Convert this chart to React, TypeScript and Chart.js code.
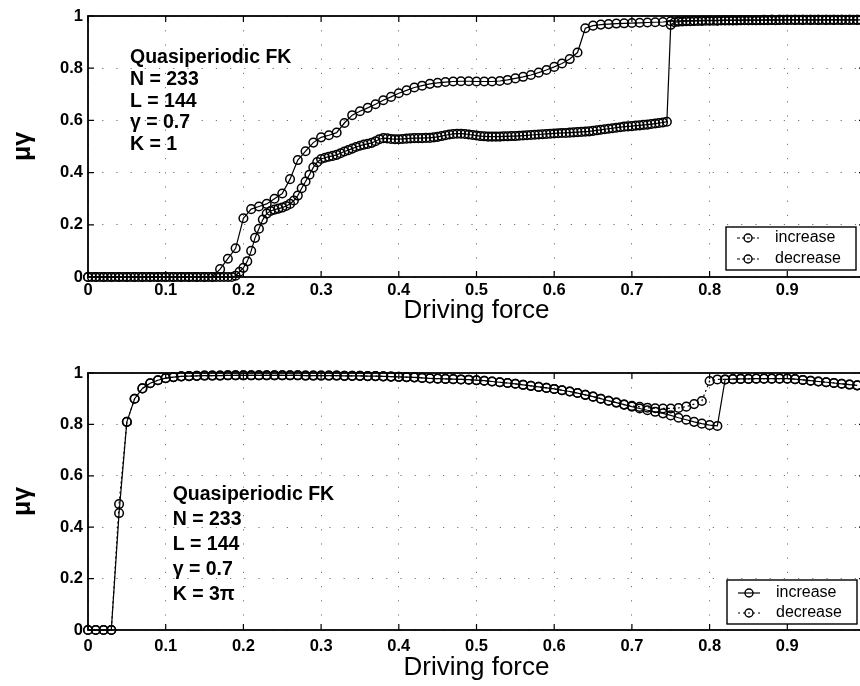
import React, { useEffect, useRef } from 'react';
import { Chart, registerables } from 'chart.js';

Chart.register(...registerables);

// ---------- data ----------
const STEP_FINE = 0.005;
const STEP_COARSE = 0.01;

const topIncrease = [
  0, 0, 0, 0, 0, 0, 0, 0, 0, 0,
  0, 0, 0, 0, 0, 0, 0, 0, 0, 0,
  0, 0, 0, 0, 0, 0, 0, 0, 0, 0,
  0, 0, 0, 0, 0, 0, 0, 0, 0.005, 0.02,
  0.035, 0.06, 0.1, 0.15, 0.185, 0.22, 0.243, 0.253, 0.258, 0.262,
  0.266, 0.272, 0.28, 0.293, 0.312, 0.34, 0.366, 0.392, 0.42, 0.44,
  0.452, 0.457, 0.461, 0.464, 0.468, 0.474, 0.481, 0.486, 0.492, 0.498,
  0.503, 0.507, 0.51, 0.514, 0.52, 0.528, 0.532, 0.531, 0.529, 0.528,
  0.528, 0.529, 0.53, 0.531, 0.532, 0.532, 0.532, 0.533, 0.533, 0.535,
  0.537, 0.54, 0.543, 0.546, 0.548, 0.549, 0.549, 0.548, 0.546, 0.544,
  0.542, 0.54, 0.539, 0.538, 0.538, 0.538, 0.538, 0.539, 0.539, 0.54,
  0.54, 0.541, 0.542, 0.543, 0.544, 0.545, 0.546, 0.547, 0.548, 0.549,
  0.55, 0.551, 0.552, 0.552, 0.553, 0.554, 0.555, 0.556, 0.557, 0.558,
  0.56, 0.562, 0.564, 0.566, 0.568, 0.57, 0.572, 0.574, 0.576, 0.577,
  0.578, 0.58, 0.581, 0.583, 0.584, 0.586, 0.588, 0.59, 0.592, 0.595,
  0.966, 0.976, 0.978, 0.979, 0.98, 0.98, 0.981, 0.981, 0.981, 0.982,
  0.982, 0.982, 0.982, 0.983, 0.983, 0.983, 0.983, 0.983, 0.984, 0.984,
  0.984, 0.984, 0.984, 0.984, 0.984, 0.984, 0.985, 0.984, 0.985, 0.985,
  0.985, 0.985, 0.985, 0.985, 0.985, 0.985, 0.985, 0.985, 0.985, 0.985,
  0.985, 0.985, 0.985, 0.985, 0.985, 0.985, 0.985, 0.985, 0.985, 0.985,
];

const topDecrease = [
  0, 0, 0, 0, 0, 0, 0, 0, 0, 0,
  0, 0, 0, 0, 0, 0, 0, 0.03, 0.07, 0.11,
  0.225, 0.26, 0.27, 0.28, 0.3, 0.32, 0.375, 0.448, 0.482, 0.515,
  0.535, 0.543, 0.553, 0.59, 0.62, 0.635, 0.648, 0.662, 0.677, 0.69,
  0.704, 0.715, 0.726, 0.733, 0.74, 0.744, 0.747, 0.749, 0.75, 0.75,
  0.749, 0.749, 0.749, 0.751, 0.755, 0.761, 0.767, 0.774, 0.783, 0.793,
  0.805, 0.818, 0.835, 0.86, 0.953, 0.963, 0.967, 0.969, 0.971, 0.972,
  0.973, 0.974, 0.975, 0.976, 0.977, 0.98, 0.981, 0.982, 0.982, 0.983,
  0.983, 0.983, 0.984, 0.984, 0.984, 0.984, 0.984, 0.985, 0.985, 0.985,
  0.985, 0.985, 0.985, 0.985, 0.985, 0.985, 0.985, 0.985, 0.985, 0.985,
];

const bottomIncrease = [
  0, 0, 0, 0, 0.455, 0.81, 0.9, 0.94, 0.96, 0.972,
  0.98, 0.984, 0.987, 0.988, 0.989, 0.99, 0.99, 0.99, 0.991, 0.991,
  0.991, 0.991, 0.991, 0.991, 0.991, 0.991, 0.991, 0.991, 0.99, 0.99,
  0.99, 0.99, 0.99, 0.989, 0.989, 0.989, 0.988, 0.988, 0.987, 0.986,
  0.985, 0.984, 0.983, 0.981, 0.979, 0.978, 0.977, 0.976, 0.975, 0.974,
  0.972, 0.97, 0.967, 0.964, 0.961, 0.958, 0.954, 0.95, 0.946, 0.942,
  0.938, 0.933, 0.928, 0.922, 0.915, 0.908, 0.9, 0.892, 0.885, 0.877,
  0.869, 0.862, 0.855, 0.849, 0.843, 0.835, 0.826, 0.818, 0.81, 0.803,
  0.797, 0.794, 0.975, 0.976, 0.977, 0.977, 0.978, 0.978, 0.978, 0.978,
  0.978, 0.976, 0.973, 0.97, 0.967, 0.964, 0.961, 0.958, 0.955, 0.952,
];

const bottomDecrease = [
  0, 0, 0, 0, 0.49, 0.81, 0.9, 0.94, 0.96, 0.972,
  0.98, 0.984, 0.987, 0.988, 0.989, 0.99, 0.99, 0.99, 0.991, 0.991,
  0.991, 0.991, 0.991, 0.991, 0.991, 0.991, 0.991, 0.991, 0.99, 0.99,
  0.99, 0.99, 0.99, 0.989, 0.989, 0.989, 0.988, 0.988, 0.987, 0.986,
  0.985, 0.984, 0.983, 0.981, 0.979, 0.978, 0.977, 0.976, 0.975, 0.974,
  0.972, 0.97, 0.967, 0.964, 0.961, 0.958, 0.954, 0.95, 0.946, 0.942,
  0.938, 0.933, 0.928, 0.922, 0.915, 0.908, 0.9, 0.892, 0.885, 0.877,
  0.872, 0.868, 0.865, 0.863, 0.862, 0.862, 0.864, 0.869, 0.879, 0.891,
  0.969, 0.975, 0.975, 0.976, 0.977, 0.977, 0.978, 0.978, 0.978, 0.978,
  0.978, 0.976, 0.973, 0.97, 0.967, 0.964, 0.961, 0.958, 0.955, 0.952,
];

const xTickLabels = ['0', '0.1', '0.2', '0.3', '0.4', '0.5', '0.6', '0.7', '0.8', '0.9', '1'];
const yTickLabels = ['0', '0.2', '0.4', '0.6', '0.8', '1'];
const seriesNames = ['increase', 'decrease'];
const xTitle = 'Driving force';
const yTitle = 'μγ';
const topNotes = ['Quasiperiodic FK', 'N = 233', 'L = 144', 'γ = 0.7', 'K = 1'];
const bottomNotes = ['Quasiperiodic FK', 'N = 233', 'L = 144', 'γ = 0.7', 'K = 3π'];

// sampling grid of the driving force (category positions)
const forceGrid = (n: number, step: number) =>
  Array.from({ length: n }, (_, i) => Math.round(i * step * 1000) / 1000);

const FONT = "'Liberation Sans', Arial, Helvetica, sans-serif";

const decor = {
  id: 'decor',
  afterDatasetsDraw(chart: any, _args: any, opts: any) {
    const { ctx, chartArea: a, scales } = chart;
    const xs = scales.x;
    const ys = scales.y;
    ctx.save();
    ctx.setLineDash([]);
    ctx.strokeStyle = '#000';
    // inward ticks
    ctx.lineWidth = 1.2;
    ctx.beginPath();
    xs.ticks.forEach((t: any) => {
      const px = xs.getPixelForValue(t.value);
      ctx.moveTo(px, a.bottom);
      ctx.lineTo(px, a.bottom - 6);
      ctx.moveTo(px, a.top);
      ctx.lineTo(px, a.top + 6);
    });
    ys.ticks.forEach((t: any) => {
      const py = ys.getPixelForValue(t.value);
      ctx.moveTo(a.left, py);
      ctx.lineTo(a.left + 6, py);
      ctx.moveTo(a.right, py);
      ctx.lineTo(a.right - 6, py);
    });
    ctx.stroke();
    // box
    ctx.lineWidth = 1.8;
    ctx.strokeRect(a.left, a.top, a.right - a.left, a.bottom - a.top);
    // annotation
    ctx.fillStyle = '#000';
    ctx.font = `bold 19.5px ${FONT}`;
    ctx.textBaseline = 'middle';
    ctx.textAlign = 'left';
    const nx = xs.getPixelForValue(opts.noteX);
    const ny = ys.getPixelForValue(opts.noteY);
    opts.notes.forEach((s: string, i: number) => ctx.fillText(s, nx, ny + i * opts.noteGap));
    // legend
    const L = opts.legend;
    const bx = a.left + L.left;
    const by = a.top + L.top;
    ctx.fillStyle = '#fff';
    ctx.fillRect(bx, by, L.w, L.h);
    ctx.lineWidth = 1.4;
    ctx.strokeRect(bx, by, L.w, L.h);
    ctx.font = `16px ${FONT}`;
    chart.data.datasets.forEach((ds: any, i: number) => {
      const cy = by + L.rows[i];
      ctx.strokeStyle = '#000';
      ctx.lineWidth = 1.2;
      ctx.setLineDash(L.dash[i]);
      ctx.beginPath();
      ctx.moveTo(bx + 11, cy);
      ctx.lineTo(bx + 33, cy);
      ctx.stroke();
      ctx.setLineDash([]);
      ctx.lineWidth = 1.4;
      ctx.beginPath();
      ctx.arc(bx + 22, cy, 4, 0, Math.PI * 2);
      ctx.stroke();
      ctx.fillStyle = '#000';
      ctx.fillText(ds.label, bx + 49, cy);
    });
    ctx.restore();
  },
};

function makeDataset(label: string, xs: number[], ys: number[], dash: number[]) {
  return {
    label,
    data: ys.map((y, i) => ({ x: xs[i], y })),
    borderColor: '#000',
    borderWidth: 1.2,
    borderDash: dash,
    pointStyle: 'circle',
    pointRadius: 4.3,
    pointBorderWidth: 1.5,
    pointBorderColor: '#000',
    pointBackgroundColor: 'rgba(0,0,0,0)',
    tension: 0,
    fill: false,
    clip: false,
  };
}

function makeConfig(p: any) {
  return {
    type: 'line',
    data: { datasets: p.datasets },
    plugins: [decor],
    options: {
      responsive: false,
      animation: false,
      devicePixelRatio: 1,
      events: [],
      layout: { padding: { top: p.padTop, right: 15, left: 0, bottom: 0 } },
      plugins: {
        legend: { display: false },
        tooltip: { enabled: false },
        decor: p.decor,
      },
      scales: {
        x: {
          type: 'linear',
          min: 0,
          max: 1,
          afterFit: (s: any) => { s.height = p.xHeight; },
          ticks: {
            stepSize: 0.1,
            autoSkip: false,
            maxRotation: 0,
            padding: p.xTickPad,
            color: '#000',
            font: { family: FONT, size: 16.5, weight: 'bold' },
            callback: (v: number) => xTickLabels[Math.round(v * 10)] ?? '',
          },
          grid: { color: 'rgba(0,0,0,0.55)', lineWidth: 1, drawTicks: false },
          border: { display: false, dash: [1.2, 13] },
          title: {
            display: true,
            text: xTitle,
            color: '#000',
            font: { family: FONT, size: 26 },
            padding: { top: 0, bottom: p.xTitlePad },
          },
        },
        y: {
          type: 'linear',
          min: 0,
          max: 1,
          afterFit: (s: any) => { s.width = 88; },
          ticks: {
            stepSize: 0.2,
            padding: 5,
            color: '#000',
            font: { family: FONT, size: 16.5, weight: 'bold' },
            callback: (v: number) => yTickLabels[Math.round(v * 5)] ?? '',
          },
          grid: { color: 'rgba(0,0,0,0.55)', lineWidth: 1, drawTicks: false },
          border: { display: false, dash: [1.2, 13] },
          title: {
            display: true,
            text: yTitle,
            color: '#000',
            font: { family: FONT, size: 25, weight: 'bold' },
            padding: { top: 8, bottom: 0 },
          },
        },
      },
    },
  };
}

function Panel(props: { height: number; config: any }) {
  const ref = useRef<HTMLCanvasElement | null>(null);
  useEffect(() => {
    if (!ref.current) return;
    const chart = new Chart(ref.current, props.config);
    return () => chart.destroy();
  }, []);
  return <canvas ref={ref} width={880} height={props.height} style={{ display: 'block' }} />;
}

export default function App() {
  const fine = forceGrid(topIncrease.length, STEP_FINE);
  const coarse = forceGrid(topDecrease.length, STEP_COARSE);
  const coarseB = forceGrid(bottomIncrease.length, STEP_COARSE);

  const topConfig = makeConfig({
    datasets: [
      makeDataset(seriesNames[0], fine, topIncrease, []),
      makeDataset(seriesNames[1], coarse, topDecrease, []),
    ],
    padTop: 16,
    xHeight: 63,
    xTickPad: 4,
    xTitlePad: 14,
    decor: {
      notes: topNotes,
      noteX: 0.054,
      noteY: 0.839,
      noteGap: 21.7,
      legend: { left: 638, top: 211, w: 130, h: 43, rows: [11, 32], dash: [[3, 2], [3, 2]] },
    },
  });

  const bottomConfig = makeConfig({
    datasets: [
      makeDataset(seriesNames[0], coarseB, bottomIncrease, []),
      makeDataset(seriesNames[1], coarseB, bottomDecrease, [2, 3]),
    ],
    padTop: 33,
    xHeight: 56,
    xTickPad: 7,
    xTitlePad: 3,
    decor: {
      notes: bottomNotes,
      noteX: 0.109,
      noteY: 0.525,
      noteGap: 25,
      legend: { left: 639, top: 207, w: 130, h: 44, rows: [13, 33], dash: [[], [2, 3]] },
    },
  });

  return (
    <div style={{ position: 'fixed', left: 0, top: 0, width: 880, height: 686, background: '#fff', overflow: 'hidden' }}>
      <Panel height={340} config={topConfig} />
      <Panel height={346} config={bottomConfig} />
    </div>
  );
}
